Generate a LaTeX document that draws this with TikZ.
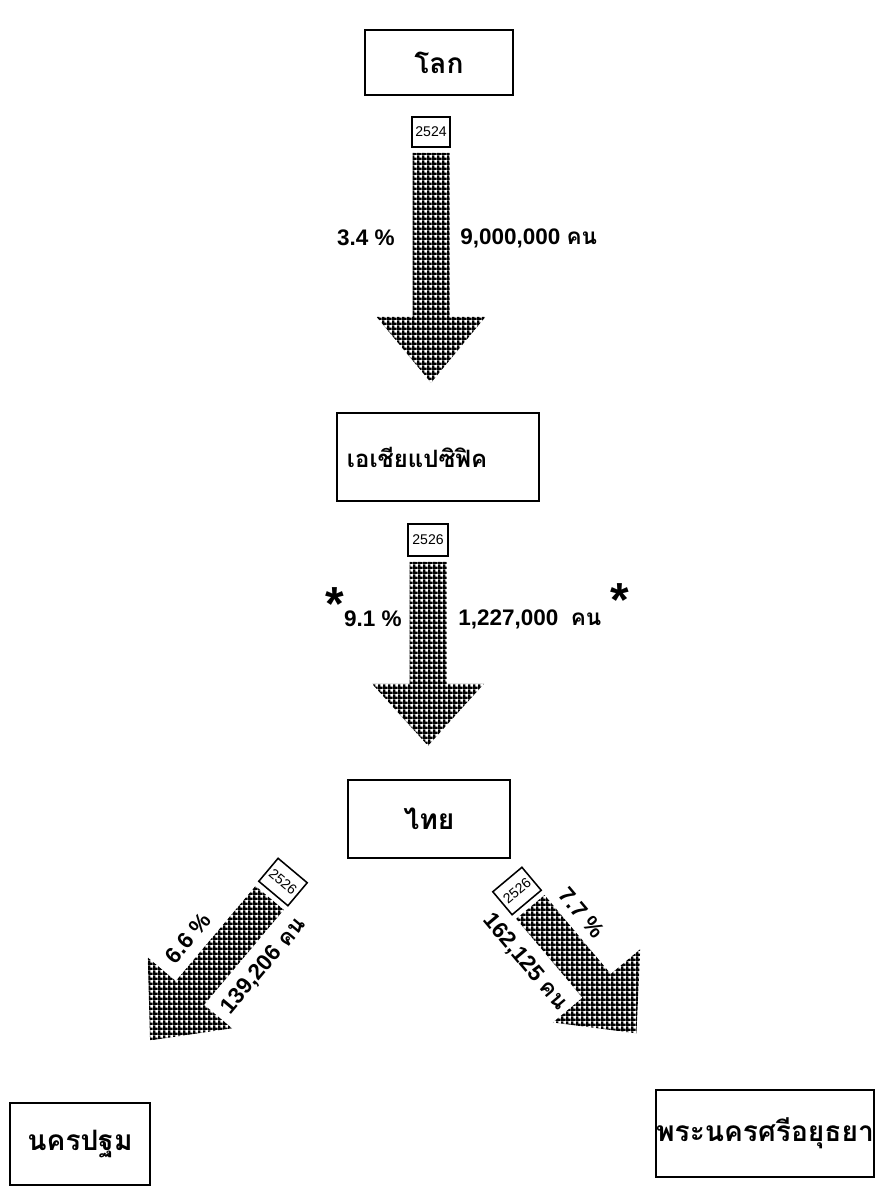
\documentclass[tikz,border=0pt]{standalone}
\usepackage{fontspec}
\setmainfont{Liberation Sans}
\newfontfamily\thai[Script=Thai]{Loma}
\usetikzlibrary{calc,patterns.meta}

\tikzdeclarepattern{
  name=cellgrid,
  type=uncolored,
  bottom left={(0pt,0pt)},
  top right={(3.4pt,3.4pt)},
  tile size={(3.4pt,3.4pt)},
  code={
    \pgfpathrectangle{\pgfpoint{0pt}{0pt}}{\pgfpoint{3.4pt}{1.8pt}}
    \pgfpathrectangle{\pgfpoint{0pt}{0pt}}{\pgfpoint{1.8pt}{3.4pt}}
    \pgfusepath{fill}
  }
}

\begin{document}
\begin{tikzpicture}[
    x=0.025cm, y=0.025cm,
    every node/.style={inner sep=0pt},
    place/.style={draw, line width=1.6pt, align=center,
        font=\thai\bfseries\fontsize{20}{24}\selectfont},
    yeartag/.style={draw, line width=1.1pt, minimum width=0.95cm,
        minimum height=0.75cm, font=\fontsize{10}{11}\selectfont},
    count/.style={font=\bfseries\fontsize{16}{18}\selectfont},
    star/.style={font=\bfseries\fontsize{34}{34}\selectfont},
    flow/.style={pattern=cellgrid, pattern color=black}
]
\useasboundingbox (0,0) rectangle (874,-1188);

%------------------------------------------------
% Places
%------------------------------------------------
\node[place, minimum width=3.7cm, minimum height=1.625cm] (world) at (439,-62.5) {โลก};
\node[place, minimum width=5.05cm, minimum height=2.2cm, text width=4.55cm,
    inner xsep=0.25cm, align=left, font=\thai\bfseries\fontsize{17}{20}\selectfont]
    (asia) at (438,-457) {เอเชียแปซิฟิค};
\node[place, minimum width=4.05cm, minimum height=1.95cm] (thailand) at (429,-819) {ไทย};
\node[place, minimum width=3.5cm, minimum height=2.05cm] (nakhon) at (80,-1144) {นครปฐม};
\node[place, minimum width=5.35cm, minimum height=2.175cm] (ayutthaya) at (765,-1133.5) {พระนครศรีอยุธยา};

%------------------------------------------------
% Year tags
%------------------------------------------------
\node[yeartag] (tag1) at (431,-132) {2524};
\node[yeartag, minimum width=1.0cm, minimum height=0.8cm] (tag2) at (428,-540) {2526};
\node[yeartag, rotate=-40] (tag3) at (283,-882) {2526};
\node[yeartag, rotate=40] (tag4) at (517,-891) {2526};

%------------------------------------------------
% Flows
%------------------------------------------------
\foreach \tag/\ang/\len/\half/\tip in {
tag1/-90/164/54.5/66,
tag2/-90/122/56/62,
tag3/230/124/55/62,
tag4/-50/103/57/62}
{
    \fill[flow, shift={(\tag.south)}, rotate=\ang]
    (5,18.5) -- (5+\len,18.5) -- (5+\len,\half) -- (5+\len+\tip,0)
    -- (5+\len,-\half) -- (5+\len,-18.5) -- (5,-18.5) -- cycle;
}

%------------------------------------------------
% Counts
%------------------------------------------------
\node[count, anchor=east] (pct1) at (395,-238) {3.4 \%};
\node[count, anchor=west] (num1) at (460,-238) {9,000,000 {\thai คน}};

\node[count, anchor=east] (pct2) at (402,-619) {9.1 \%};
\node[count, anchor=west] (num2) at (458,-619) {1,227,000\ \ {\thai คน}};
\node[star] (star1) at (335,-604) {*};
\node[star] (star2) at (620,-600) {*};

\node[count, rotate=50] (pct3) at (188,-938) {6.6 \%};
\node[count, rotate=50] (num3) at (264,-966) {139,206 {\thai คน}};

\node[count, rotate=-50] (pct4) at (582,-913) {7.7 \%};
\node[count, rotate=-50] (num4) at (525,-962) {162,125 {\thai คน}};

\end{tikzpicture}
\end{document}
